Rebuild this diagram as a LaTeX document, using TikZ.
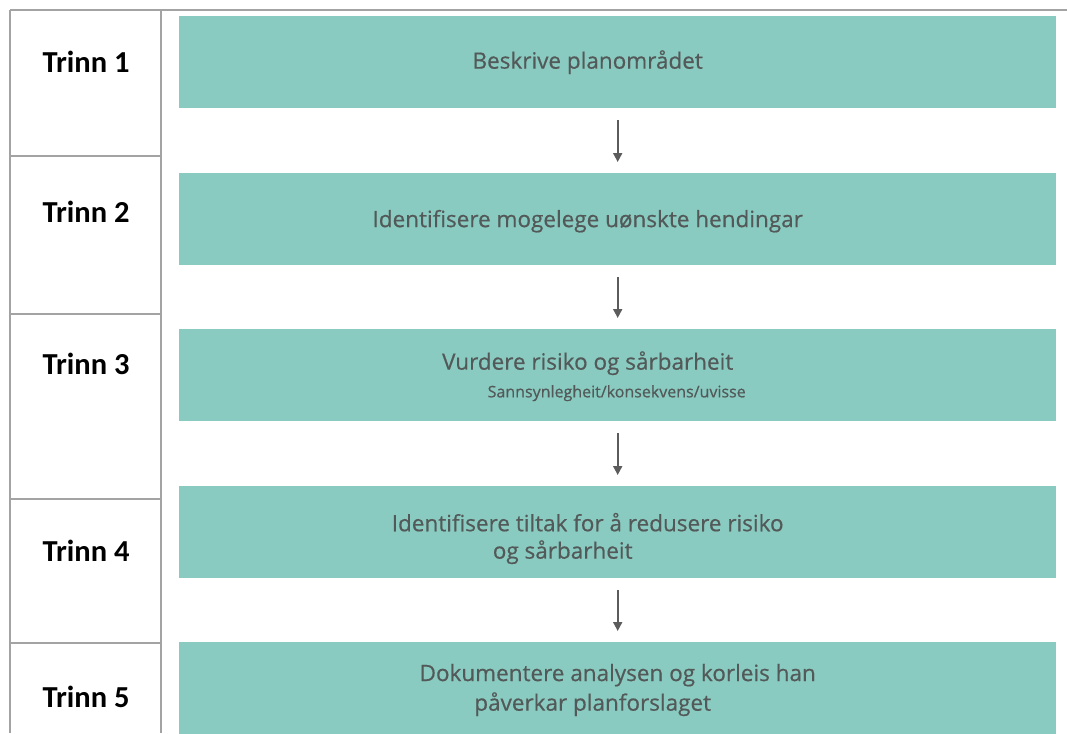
\documentclass[tikz,border=0pt]{standalone}
\usepackage{fontspec}
\setmainfont{Carlito}
\newfontfamily\boxfont[FakeBold=0.5]{Open Sans}
\usetikzlibrary{arrows.meta}
\definecolor{boxteal}{HTML}{8ACBC1}
\definecolor{boxink}{HTML}{525958}
\definecolor{gridgray}{HTML}{A3A3A3}
\definecolor{arrowgray}{HTML}{5C5C5C}
\begin{document}
\begin{tikzpicture}[x=1pt,y=-1pt,
    grid/.style={draw=gridgray, line width=1.8pt},
    stepbox/.style={fill=boxteal, minimum width=877pt, minimum height=92pt,
      inner sep=0pt, anchor=north west},
    trinn/.style={font=\fontsize{30.5}{36}\selectfont\bfseries},
    boxtext/.style={font=\boxfont\fontsize{22.5}{26}\selectfont, text=boxink, inner sep=0pt},
    subtext/.style={font=\boxfont\fontsize{16}{18}\selectfont, text=boxink, inner sep=0pt},
    flow/.style={-{Triangle[length=9pt,width=9pt]}, draw=arrowgray, line width=1.8pt,
      shorten <=12pt, shorten >=11pt}]
    \useasboundingbox (0,0) rectangle (1067,733);

    % table on the left
    \draw [grid] (10,10) -- (1067,10);
    \draw [grid] (10,10) -- (10,733);
    \draw [grid] (161,10) -- (161,733);
    \draw [grid] (10,156) -- (161,156);
    \draw [grid] (10,314) -- (161,314);
    \draw [grid] (10,499) -- (161,499);
    \draw [grid] (10,643) -- (161,643);

    \node [trinn] (s1) at (86,62) {Trinn 1};
    \node [trinn] (s2) at (86,212) {Trinn 2};
    \node [trinn] (s3) at (86,364) {Trinn 3};
    \node [trinn] (s4) at (86,551) {Trinn 4};
    \node [trinn] (s5) at (86,697) {Trinn 5};

    % steps
    \node [stepbox] (b1) at (179,16) {};
    \node [stepbox] (b2) at (179,173) {};
    \node [stepbox] (b3) at (179,329) {};
    \node [stepbox] (b4) at (179,486) {};
    \node [stepbox] (b5) at (179,642) {};

    \node [boxtext] (t1) at ([xshift=-30pt]b1.center) {Beskrive planområdet};
    \node [boxtext] (t2) at ([xshift=-30pt,yshift=-2pt]b2.center) {Identifisere mogelege uønskte hendingar};
    \node [boxtext] (t3) at ([xshift=-30pt,yshift=12pt]b3.center) {Vurdere risiko og sårbarheit};
      \node [subtext] (t3s) at ([xshift=-1pt,yshift=-18pt]b3.center) {Sannsynlegheit/konsekvens/uvisse};
    \node [boxtext] (t4) at ([xshift=-30pt,yshift=10pt]b4.center) {Identifisere tiltak for å redusere risiko};
      \node [boxtext] (t4b) at ([xshift=-55pt,yshift=-20pt]b4.center) {og sårbarheit};
    \node [boxtext] (t5) at ([xshift=0pt,yshift=13pt]b5.center) {Dokumentere analysen og korleis han};
      \node [boxtext] (t5b) at ([xshift=-25pt,yshift=-16pt]b5.center) {påverkar planforslaget};

    \draw [flow] (b1.south) -- (b2.north);
    \draw [flow] (b2.south) -- (b3.north);
    \draw [flow] (b3.south) -- (b4.north);
    \draw [flow] (b4.south) -- (b5.north);
  \end{tikzpicture}
\end{document}
